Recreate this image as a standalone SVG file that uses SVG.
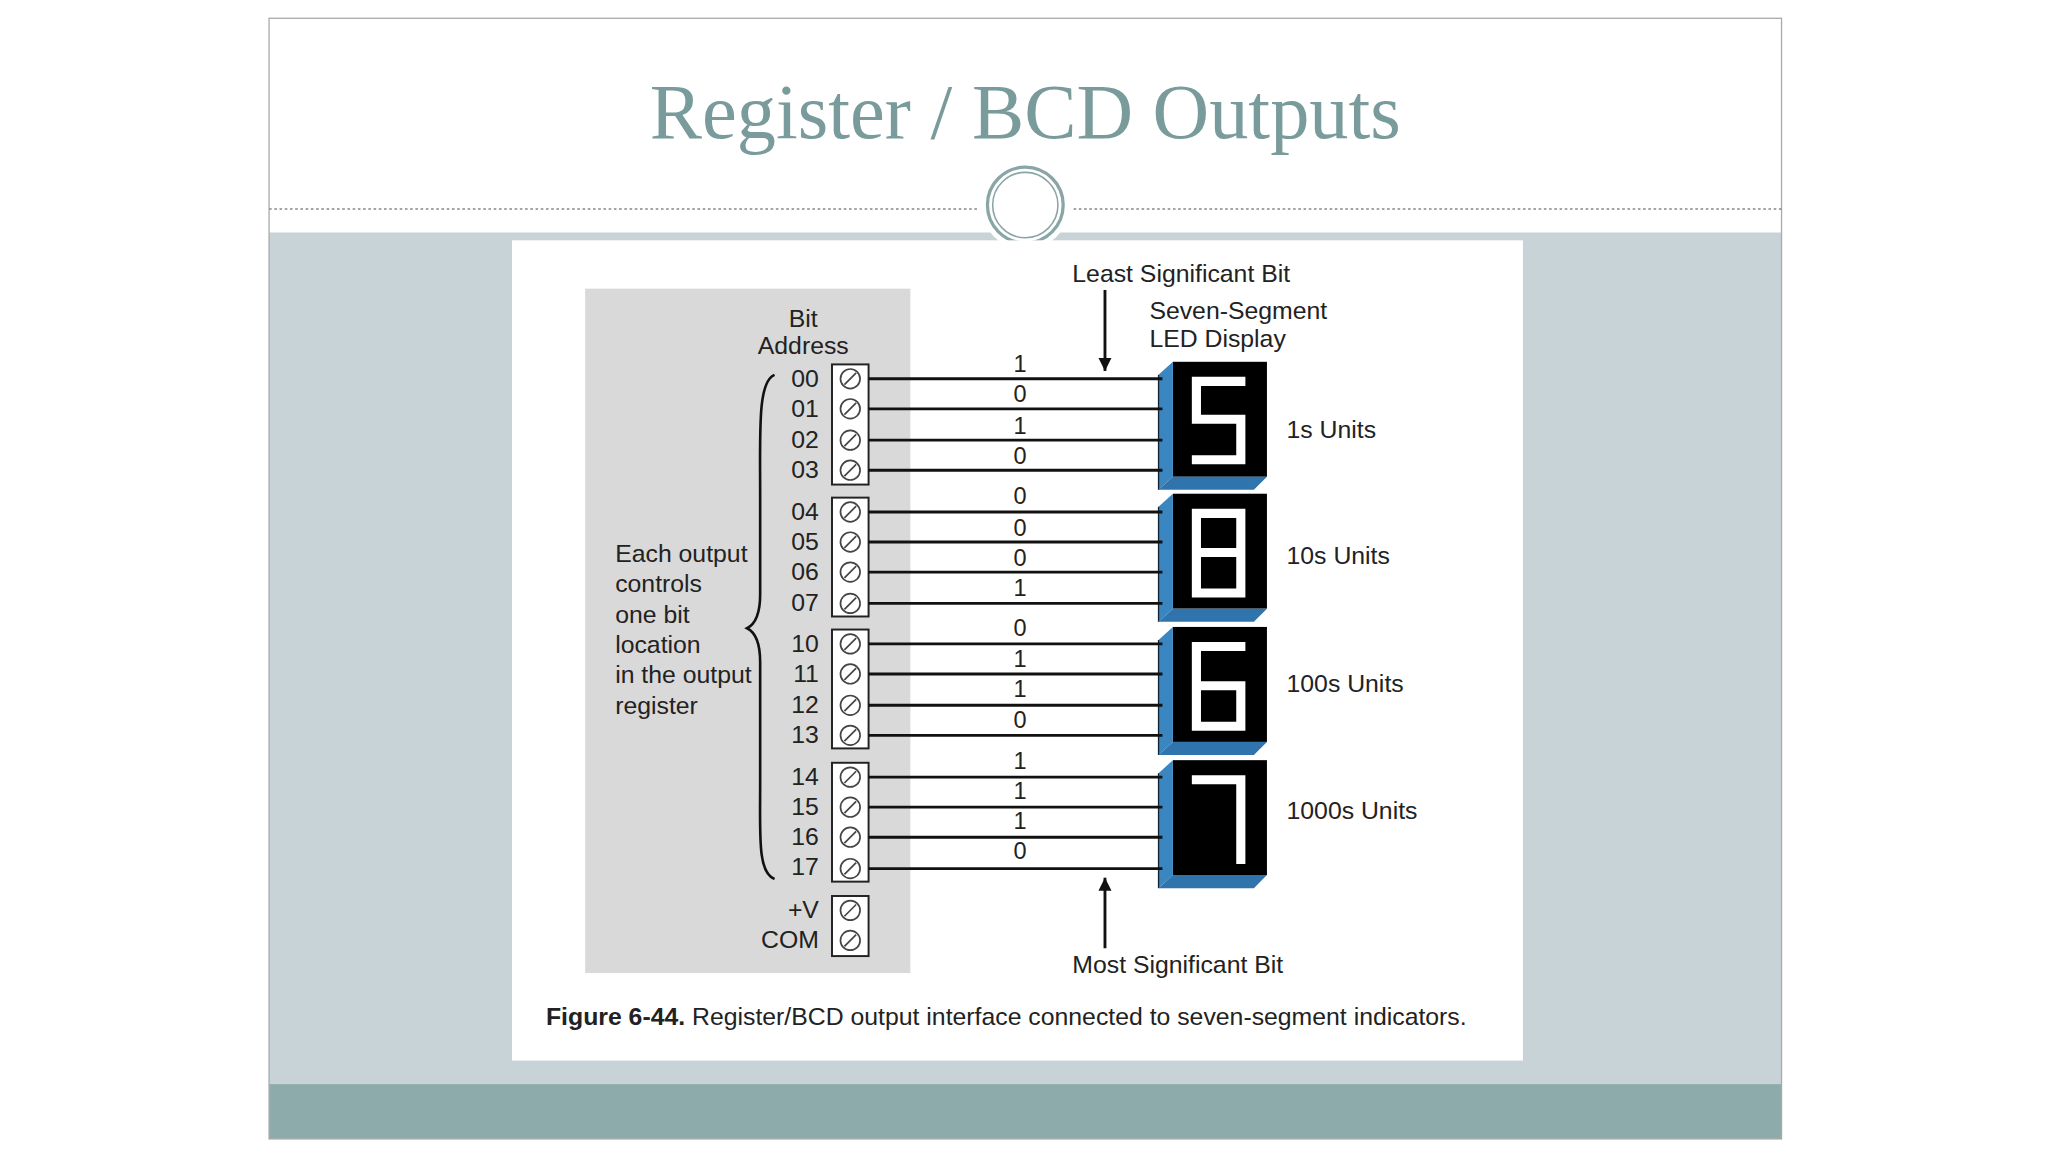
<svg xmlns="http://www.w3.org/2000/svg" width="2048" height="1152" viewBox="0 0 2048 1152">
<style>
.t{font-family:"Liberation Sans",Arial,sans-serif;font-size:19px;fill:#222}
.r{text-anchor:end}
.w{stroke:#111;stroke-width:2.2}
.tb{fill:#fff;stroke:#222;stroke-width:1.5}
.sc{fill:#fff;stroke:#444;stroke-width:1.3}
.seg{fill:none;stroke:#fff;stroke-width:7;stroke-linecap:square}
</style>
<defs>
<marker id="ah" markerWidth="10" markerHeight="10" refX="10" refY="5" orient="auto" markerUnits="userSpaceOnUse"><path d="M0,0 L10,5 L0,10 Z" fill="#111"/></marker>
<g id="screw"><circle r="7.5" class="sc"/><line x1="-4.5" y1="4.5" x2="4.5" y2="-4.5" stroke="#444" stroke-width="1.3"/></g>
<g id="disp"><rect x="898" y="0" width="72" height="88" fill="#000"/><path d="M887,10 L898,0 L898,88 L887,98 Z" fill="#3a86c0"/><path d="M887,98 L898,88 L970,88 L960,98 Z" fill="#2f74ad"/><line x1="887" y1="10" x2="887" y2="98" stroke="#123" stroke-width="1"/></g>
</defs>
<rect width="2048" height="1152" fill="#fff"/>
<g transform="scale(1.30612)">
<g id="slide">
<rect x="206" y="178" width="1158" height="652" fill="#c8d3d8"/>
<rect x="206" y="830" width="1158" height="42" fill="#8dabab"/>
<rect x="206" y="14" width="1158" height="858" fill="none" stroke="#aaa" stroke-width="1"/>
<line x1="206" y1="160" x2="750" y2="160" stroke="#888" stroke-dasharray="2,2"/>
<line x1="822" y1="160" x2="1364" y2="160" stroke="#888" stroke-dasharray="2,2"/>
<circle cx="785" cy="157" r="34" fill="#fff"/>
<circle cx="785" cy="157" r="29" fill="#fff" stroke="#8aa5a5" stroke-width="2.5"/>
<circle cx="785" cy="157" r="25" fill="none" stroke="#8aa5a5" stroke-width="1.2"/>
<text x="785" y="106" text-anchor="middle" style="font-family:'Liberation Serif','Times New Roman',serif;font-size:60px;fill:#7a9b9b">Register / BCD Outputs</text>
<rect x="392" y="184" width="774" height="628" fill="#fff"/>
<rect x="448" y="221" width="249" height="524" fill="#d9d9d9"/>
</g>
<g id="labels">
<text class="t" x="615" y="250" text-anchor="middle">Bit</text>
<text class="t" x="615" y="271" text-anchor="middle">Address</text>
<text class="t" x="471" y="430">Each output</text>
<text class="t" x="471" y="453">controls</text>
<text class="t" x="471" y="477">one bit</text>
<text class="t" x="471" y="500">location</text>
<text class="t" x="471" y="523">in the output</text>
<text class="t" x="471" y="547">register</text>
<path d="M593,287 C580,292 582,330 582,380 L582,455 C582,470 578,478 572,481 C578,484 582,492 582,507 L582,600 C582,640 580,668 593,673" fill="none" stroke="#111" stroke-width="2"/>
<text class="t" x="821" y="216">Least Significant Bit</text>
<text class="t" x="880" y="244">Seven-Segment</text>
<text class="t" x="880" y="266">LED Display</text>
<text class="t" x="821" y="745">Most Significant Bit</text>
<text class="t" x="985" y="335">1s Units</text>
<text class="t" x="985" y="432">10s Units</text>
<text class="t" x="985" y="530">100s Units</text>
<text class="t" x="985" y="627">1000s Units</text>
<text class="t" x="418" y="785" style="font-size:19px"><tspan font-weight="bold">Figure 6-44.</tspan> Register/BCD output interface connected to seven-segment indicators.</text>
</g>
<g id="terminals">
<rect class="tb" x="637" y="279" width="28" height="92"/>
<rect class="tb" x="637" y="381" width="28" height="91"/>
<rect class="tb" x="637" y="482" width="28" height="91"/>
<rect class="tb" x="637" y="584" width="28" height="91"/>
<rect class="tb" x="637" y="686" width="28" height="46"/>
<g class="t r">
<text x="627" y="296">00</text><text x="627" y="319">01</text><text x="627" y="343">02</text><text x="627" y="366">03</text>
<text x="627" y="398">04</text><text x="627" y="421">05</text><text x="627" y="444">06</text><text x="627" y="468">07</text>
<text x="627" y="499">10</text><text x="627" y="522">11</text><text x="627" y="546">12</text><text x="627" y="569">13</text>
<text x="627" y="601">14</text><text x="627" y="624">15</text><text x="627" y="647">16</text><text x="627" y="670">17</text>
<text x="627" y="703">+V</text><text x="627" y="726">COM</text>
</g>
<use href="#screw" x="651" y="290"/><use href="#screw" x="651" y="313"/><use href="#screw" x="651" y="337"/><use href="#screw" x="651" y="360"/>
<use href="#screw" x="651" y="392"/><use href="#screw" x="651" y="415"/><use href="#screw" x="651" y="438"/><use href="#screw" x="651" y="462"/>
<use href="#screw" x="651" y="493"/><use href="#screw" x="651" y="516"/><use href="#screw" x="651" y="540"/><use href="#screw" x="651" y="563"/>
<use href="#screw" x="651" y="595"/><use href="#screw" x="651" y="618"/><use href="#screw" x="651" y="641"/><use href="#screw" x="651" y="665"/>
<use href="#screw" x="651" y="697"/><use href="#screw" x="651" y="720"/>
</g>
<g id="displays">
<use href="#disp" y="277"/>
<use href="#disp" y="378"/>
<use href="#disp" y="480"/>
<use href="#disp" y="582"/>
<path class="seg" d="M950,292 L916,292 L916,321 L950,321 L950,352 L916,352"/>
<path class="seg" d="M916,393 L950,393 L950,454 L916,454 Z M916,423 L950,423"/>
<path class="seg" d="M950,495 L916,495 L916,556 L950,556 L950,525 L916,525"/>
<path class="seg" d="M916,597 L950,597 L950,658"/>
</g>
<g id="connectors" class="w">
<line x1="665" y1="290" x2="890" y2="290"/><line x1="665" y1="313" x2="890" y2="313"/><line x1="665" y1="337" x2="890" y2="337"/><line x1="665" y1="360" x2="890" y2="360"/>
<line x1="665" y1="392" x2="890" y2="392"/><line x1="665" y1="415" x2="890" y2="415"/><line x1="665" y1="438" x2="890" y2="438"/><line x1="665" y1="462" x2="890" y2="462"/>
<line x1="665" y1="493" x2="890" y2="493"/><line x1="665" y1="516" x2="890" y2="516"/><line x1="665" y1="540" x2="890" y2="540"/><line x1="665" y1="563" x2="890" y2="563"/>
<line x1="665" y1="595" x2="890" y2="595"/><line x1="665" y1="618" x2="890" y2="618"/><line x1="665" y1="641" x2="890" y2="641"/><line x1="665" y1="665" x2="890" y2="665"/>
<line x1="846" y1="222" x2="846" y2="284" marker-end="url(#ah)"/>
<line x1="846" y1="726" x2="846" y2="672" marker-end="url(#ah)"/>
</g>
<g id="bits" class="t" text-anchor="middle" style="font-size:18px">
<text x="781" y="285">1</text><text x="781" y="308">0</text><text x="781" y="332">1</text><text x="781" y="355">0</text>
<text x="781" y="386">0</text><text x="781" y="410">0</text><text x="781" y="433">0</text><text x="781" y="456">1</text>
<text x="781" y="487">0</text><text x="781" y="511">1</text><text x="781" y="534">1</text><text x="781" y="557">0</text>
<text x="781" y="589">1</text><text x="781" y="612">1</text><text x="781" y="635">1</text><text x="781" y="658">0</text>
</g>
</g>
</svg>
